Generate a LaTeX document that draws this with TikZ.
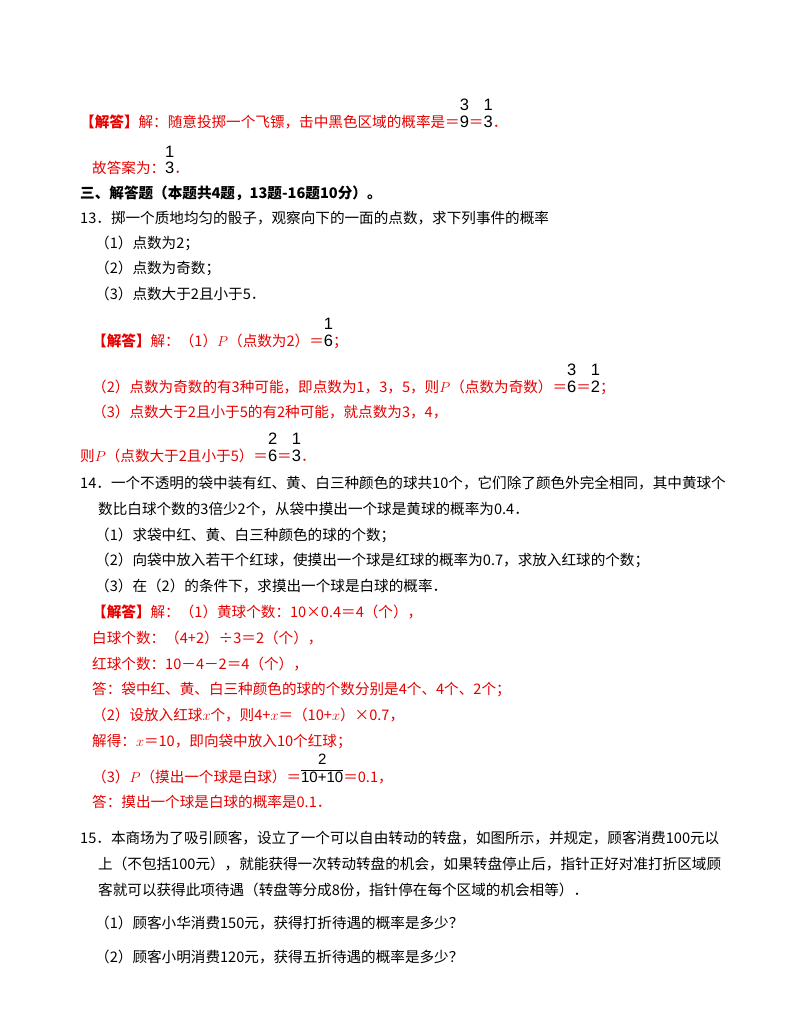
\documentclass[tikz,border=0pt]{standalone}
\usepackage{fontspec}
\newfontfamily\cjk{Noto Sans CJK SC}
\newfontfamily\arl{Liberation Sans}
\definecolor{ans}{RGB}{230,0,0}
\newcommand\fr[2]{{\arl\color{black}\fontsize{16.5}{17}\selectfont\renewcommand\arraystretch{1.0}\begin{tabular}[b]{@{}c@{}}#1\\#2\end{tabular}}}
\newcommand\frb[2]{{\arl\color{black}\fontsize{15}{15}\selectfont\renewcommand\arraystretch{1.15}\begin{tabular}[b]{@{}c@{}}#1\\\hline #2\end{tabular}}}
\begin{document}
\begin{tikzpicture}[x=1pt,y=-1pt,
  txt/.style={anchor=base west,inner sep=0pt,font=\cjk\fontsize{14.6}{18}\selectfont},
  red/.style={txt,text=ans}]
\useasboundingbox (0,0) rectangle (800,1035);
\node[red] (a1) at (80,128) {\textbf{【解答】}解：随意投掷一个飞镖，击中黑色区域的概率是＝\fr{3}{9}＝\fr{1}{3}．};
\node[red] (a2) at (92,174) {故答案为：\fr{1}{3}．};
\node[txt] (h3) at (80,198) {\textbf{三、解答题（本题共4题，13题-16题10分）。}};
\node[txt] (q13) at (80,223) {13．掷一个质地均匀的骰子，观察向下的一面的点数，求下列事件的概率};
\node[txt] (q131) at (95,248) {（1）点数为2；};
\node[txt] (q132) at (95,273) {（2）点数为奇数；};
\node[txt] (q133) at (95,299) {（3）点数大于2且小于5．};
\node[red] (a131) at (92,346) {\textbf{【解答】}解：（1）$P$（点数为2）＝\fr{1}{6}；};
\node[red] (a132) at (92,392) {（2）点数为奇数的有3种可能，即点数为1，3，5，则$P$（点数为奇数）＝\fr{3}{6}＝\fr{1}{2}；};
\node[red] (a133) at (92,417) {（3）点数大于2且小于5的有2种可能，就点数为3，4，};
\node[red] (a134) at (80,461) {则$P$（点数大于2且小于5）＝\fr{2}{6}＝\fr{1}{3}．};
\node[txt] (q14) at (80,488) {14．一个不透明的袋中装有红、黄、白三种颜色的球共10个，它们除了颜色外完全相同，其中黄球个};
\node[txt] (q14b) at (98,514) {数比白球个数的3倍少2个，从袋中摸出一个球是黄球的概率为0.4．};
\node[txt] (q141) at (95,540) {（1）求袋中红、黄、白三种颜色的球的个数；};
\node[txt] (q142) at (95,565) {（2）向袋中放入若干个红球，使摸出一个球是红球的概率为0.7，求放入红球的个数；};
\node[txt] (q143) at (95,591) {（3）在（2）的条件下，求摸出一个球是白球的概率．};
\node[red] (a141) at (92,617) {\textbf{【解答】}解：（1）黄球个数：10×0.4＝4（个），};
\node[red] (a142) at (92,643) {白球个数：（4+2）÷3＝2（个），};
\node[red] (a143) at (92,669) {红球个数：10－4－2＝4（个），};
\node[red] (a144) at (92,694) {答：袋中红、黄、白三种颜色的球的个数分别是4个、4个、2个；};
\node[red] (a145) at (92,720) {（2）设放入红球$x$个，则4+$x$＝（10+$x$）×0.7，};
\node[red] (a146) at (92,746) {解得：$x$＝10，即向袋中放入10个红球；};
\node[red] (a147) at (92,782) {（3）$P$（摸出一个球是白球）＝\frb{2}{10+10}＝0.1，};
\node[red] (a148) at (92,807) {答：摸出一个球是白球的概率是0.1．};
\node[txt] (q15) at (80,843) {15．本商场为了吸引顾客，设立了一个可以自由转动的转盘，如图所示，并规定，顾客消费100元以};
\node[txt] (q15b) at (98,869) {上（不包括100元），就能获得一次转动转盘的机会，如果转盘停止后，指针正好对准打折区域顾};
\node[txt] (q15c) at (98,895) {客就可以获得此项待遇（转盘等分成8份，指针停在每个区域的机会相等）．};
\node[txt] (q151) at (95,928) {（1）顾客小华消费150元，获得打折待遇的概率是多少？};
\node[txt] (q152) at (95,962) {（2）顾客小明消费120元，获得五折待遇的概率是多少？};
\end{tikzpicture}
\end{document}
